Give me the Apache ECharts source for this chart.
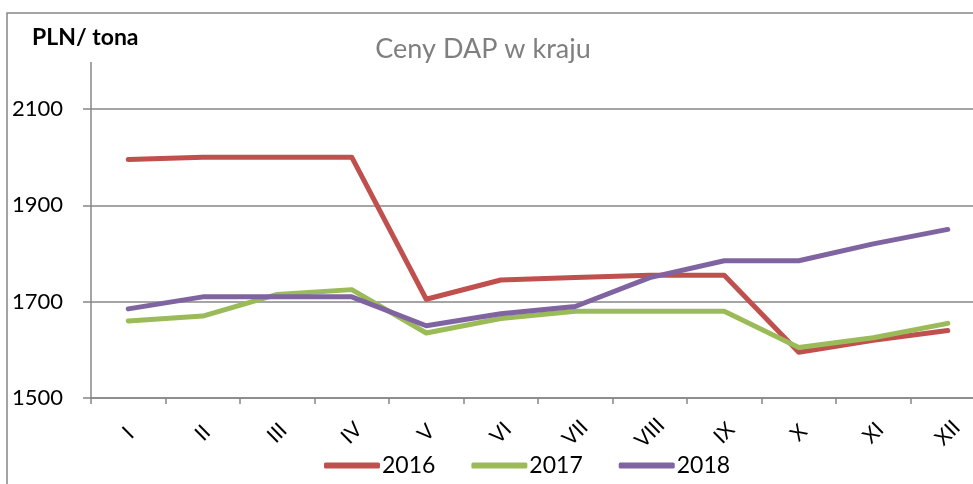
<!DOCTYPE html>
<html>
<head>
<meta charset="utf-8">
<script src="https://cdn.jsdelivr.net/npm/echarts@6/dist/echarts.min.js"></script>
<style>
  html, body { margin: 0; padding: 0; background: #fff; }
  #chart { width: 973px; height: 484px; }
</style>
</head>
<body>
<div id="chart"></div>
<script>
var months = ['I', 'II', 'III', 'IV', 'V', 'VI', 'VII', 'VIII', 'IX', 'X', 'XI', 'XII'];
var prices2016 = [1995, 2000, 2000, 2000, 1705, 1745, 1750, 1755, 1755, 1595, 1620, 1640];
var prices2017 = [1660, 1670, 1715, 1725, 1635, 1665, 1680, 1680, 1680, 1605, 1625, 1655];
var prices2018 = [1685, 1710, 1710, 1710, 1650, 1675, 1690, 1750, 1785, 1785, 1820, 1850];
var yTicks = [1500, 1700, 1900, 2100];

var FONT = 'Lato, "Noto Sans", sans-serif';
var AXIS_GRAY = '#878787';

var chart = echarts.init(document.getElementById('chart'));

function line(name, data, color) {
    return {
        name: name,
        type: 'line',
        data: data,
        showSymbol: false,
        symbol: 'none',
        animation: false,
        lineStyle: { color: color, width: 5, cap: 'round', join: 'round' },
        itemStyle: { color: color }
    };
}

var option = {
    backgroundColor: '#fff',
    animation: false,
    title: [{
        text: 'Ceny DAP w kraju',
        left: 478,
        top: 31,
        textAlign: 'center',
        textStyle: { fontFamily: FONT, fontSize: 27, fontWeight: 'normal', color: '#7f7f7f' }
    }, {
        text: 'PLN/ tona',
        left: 27,
        top: 21,
        textStyle: { fontFamily: FONT, fontSize: 23, fontWeight: 'bold', color: '#000' }
    }],
    legend: {
        left: 319,
        top: 449,
        itemWidth: 56,
        itemHeight: 6,
        itemGap: 36,
        icon: 'roundRect',
        textStyle: { fontFamily: FONT, fontSize: 23, color: '#000', padding: [0, 0, 0, -3] },
        data: ['2016', '2017', '2018']
    },
    grid: {
        left: 91,
        width: 894,
        top: 109,
        bottom: 86,
        containLabel: false,
        outerBoundsMode: 'none'
    },
    xAxis: {
        type: 'category',
        data: months,
        boundaryGap: true,
        axisLine: { lineStyle: { color: AXIS_GRAY, width: 1.5 } },
        axisTick: { show: true, length: 6, lineStyle: { color: AXIS_GRAY, width: 1.5 } },
        axisLabel: {
            rotate: 45,
            interval: 0,
            align: 'center',
            verticalAlign: 'middle',
            margin: 35,
            fontFamily: FONT,
            fontSize: 21,
            color: '#000'
        }
    },
    yAxis: {
        type: 'value',
        min: yTicks[0],
        max: yTicks[yTicks.length - 1],
        interval: 200,
        axisLine: { show: true, lineStyle: { color: AXIS_GRAY, width: 1.5 } },
        axisTick: { show: true, length: 8, lineStyle: { color: AXIS_GRAY, width: 1.5 } },
        axisLabel: {
            margin: 28,
            fontFamily: FONT,
            fontSize: 22,
            color: '#000',
            formatter: function (v) { return String(v); }
        },
        splitLine: { show: true, lineStyle: { color: AXIS_GRAY, width: 1.5 } }
    },
    graphic: [{
        // outer chart frame (right and bottom edges are cut off)
        type: 'rect',
        shape: { x: 7, y: 13, width: 1100, height: 600 },
        style: { fill: 'none', stroke: AXIS_GRAY, lineWidth: 1.5 },
        silent: true
    }, {
        // value axis runs a bit above the top gridline
        type: 'line',
        shape: { x1: 91, y1: 62, x2: 91, y2: 109 },
        style: { stroke: AXIS_GRAY, lineWidth: 1.5 },
        silent: true
    }],
    series: [
        line('2016', prices2016, '#c0504d'),
        line('2017', prices2017, '#9bbb59'),
        line('2018', prices2018, '#8064a2')
    ]
};

chart.setOption(option);
</script>
</body>
</html>
